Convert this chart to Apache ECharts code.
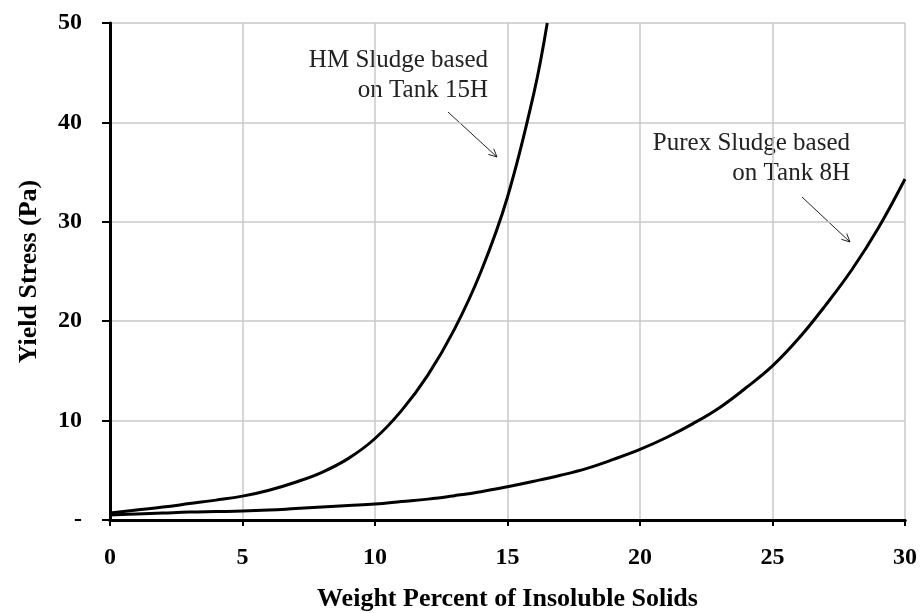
<!DOCTYPE html>
<html>
<head>
<meta charset="utf-8">
<script src="https://cdn.jsdelivr.net/npm/echarts@6/dist/echarts.min.js"></script>
<style>
  html, body { margin: 0; padding: 0; background: #fff; }
  #chart { width: 920px; height: 613px; }
</style>
</head>
<body>
<div id="chart"></div>
<script>
// HM sludge (Tank 15H) curve
const hmX = [0, 1, 2, 3, 4, 5, 6, 7, 8, 9, 10, 11, 12, 13, 14, 15, 16, 16.5];
const hmY = [0.7, 1.0, 1.3, 1.65, 2.0, 2.4, 3.0, 3.8, 4.8, 6.2, 8.2, 11.0, 14.6, 19.2, 25.0, 32.5, 43.0, 50.0];

// Purex sludge (Tank 8H) curve
const purexX = [0, 1, 2, 3, 4, 5, 6, 7, 8, 9, 10, 11, 12, 13, 14, 15, 16, 17, 18, 19, 20, 21, 22, 23, 24, 25, 26, 27, 28, 29, 30];
const purexY = [0.5, 0.6, 0.7, 0.8, 0.85, 0.9, 1.0, 1.15, 1.3, 1.45, 1.6, 1.85, 2.1, 2.45, 2.85, 3.35, 3.9, 4.5, 5.2, 6.1, 7.1, 8.3, 9.7, 11.3, 13.3, 15.5, 18.3, 21.6, 25.2, 29.4, 34.3];

const xTicks = [0, 5, 10, 15, 20, 25, 30];
const yTicks = [0, 10, 20, 30, 40, 50];

const FONT = '"Liberation Serif", "DejaVu Serif", serif';

const chart = echarts.init(document.getElementById('chart'));

function pairs(xs, ys) {
    return xs.map((x, i) => [x, ys[i]]);
}

// arrow drawn as a line plus an open head
function arrow(x1, y1, x2, y2) {
    const ang = Math.atan2(y2 - y1, x2 - x1);
    const len = 9, spread = 0.45;
    const p1 = [x2 - len * Math.cos(ang - spread), y2 - len * Math.sin(ang - spread)];
    const p2 = [x2 - len * Math.cos(ang + spread), y2 - len * Math.sin(ang + spread)];
    return [
        { type: 'line', shape: { x1: x1, y1: y1, x2: x2, y2: y2 }, style: { stroke: '#222', lineWidth: 1 } },
        { type: 'polyline', shape: { points: [p1, [x2, y2], p2] }, style: { stroke: '#222', lineWidth: 1, fill: null } }
    ];
}

const tickLabel = {
    fontFamily: FONT,
    fontSize: 24,
    fontWeight: 'bold',
    color: '#000'
};

// plain frame axes for the top and right borders
const frameAxis = {
    axisLine: { show: true, lineStyle: { color: '#000', width: 3 } },
    axisTick: { show: false },
    axisLabel: { show: false },
    splitLine: { show: false }
};

const option = {
    backgroundColor: '#fff',
    animation: false,
    grid: {
        left: 110,
        right: 15,
        top: 23,
        bottom: 93,
        containLabel: false,
        outerBoundsMode: 'none'
    },
    xAxis: [
        {
            type: 'value',
            min: 0,
            max: 30,
            interval: 5,
            name: 'Weight Percent of Insoluble Solids',
            nameLocation: 'middle',
            nameGap: 66,
            nameTextStyle: { fontFamily: FONT, fontSize: 26, fontWeight: 'bold', color: '#000' },
            axisLine: { lineStyle: { color: '#000', width: 3 } },
            axisTick: { show: true, length: 6, lineStyle: { color: '#000', width: 2 } },
            axisLabel: Object.assign({
                margin: 26,
                formatter: v => xTicks.includes(v) ? String(v) : ''
            }, tickLabel),
            splitLine: { show: true, lineStyle: { color: '#c8c8c8', width: 1.5 } }
        },
        Object.assign({ type: 'value', min: 0, max: 30, position: 'top' }, frameAxis)
    ],
    yAxis: [
        {
            type: 'value',
            min: 0,
            max: 50,
            interval: 10,
            name: 'Yield Stress (Pa)',
            nameLocation: 'middle',
            nameGap: 68,
            nameTextStyle: { fontFamily: FONT, fontSize: 26, fontWeight: 'bold', color: '#000' },
            axisLine: { show: true, lineStyle: { color: '#000', width: 2 } },
            axisTick: { show: true, length: 8, lineStyle: { color: '#000', width: 2 } },
            axisLabel: Object.assign({
                margin: 28,
                formatter: v => v === 0 ? '-' : (yTicks.includes(v) ? String(v) : '')
            }, tickLabel),
            splitLine: { show: true, lineStyle: { color: '#c8c8c8', width: 1.5 } }
        },
        Object.assign({ type: 'value', min: 0, max: 50, position: 'right' }, frameAxis)
    ],
    series: [
        {
            name: 'HM Sludge based on Tank 15H',
            type: 'line',
            data: pairs(hmX, hmY),
            showSymbol: false,
            smooth: 0.4,
            lineStyle: { color: '#000', width: 3 }
        },
        {
            name: 'Purex Sludge based on Tank 8H',
            type: 'line',
            data: pairs(purexX, purexY),
            showSymbol: false,
            smooth: 0.4,
            lineStyle: { color: '#000', width: 3 }
        }
    ],
    graphic: [
        {
            type: 'text',
            x: 488,
            y: 75,
            style: {
                text: 'HM Sludge based\non Tank 15H',
                align: 'right',
                verticalAlign: 'middle',
                lineHeight: 30,
                font: '25px ' + FONT,
                fill: '#222'
            }
        },
        {
            type: 'text',
            x: 850,
            y: 158,
            style: {
                text: 'Purex Sludge based\non Tank 8H',
                align: 'right',
                verticalAlign: 'middle',
                lineHeight: 30,
                font: '25px ' + FONT,
                fill: '#222'
            }
        }
    ].concat(arrow(448, 112, 497, 157), arrow(802, 197, 850, 242))
};

chart.setOption(option);
</script>
</body>
</html>
